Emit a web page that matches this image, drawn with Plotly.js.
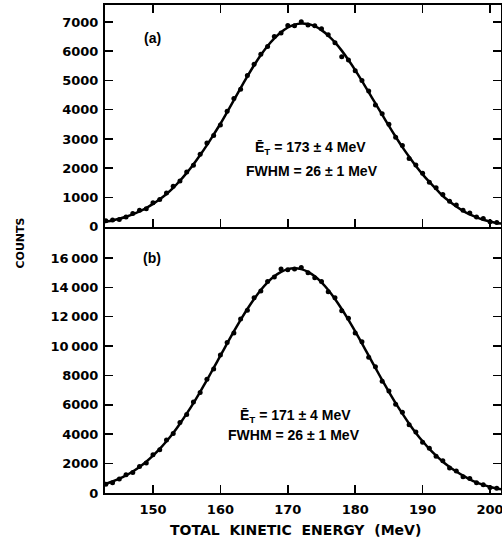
<!DOCTYPE html>
<html>
<head>
<meta charset="utf-8">
<script src="https://cdn.plot.ly/plotly-3.0.1.min.js"></script>
<style>html,body{margin:0;padding:0;background:#fff;}#chart{width:502px;height:541px;}</style>
</head>
<body>
<div id="chart"></div>
<script>
// Total kinetic energy (MeV), one channel per MeV
const energy = [143,144,145,146,147,148,149,150,151,152,153,154,155,156,157,158,159,160,161,162,
  163,164,165,166,167,168,169,170,171,172,173,174,175,176,177,178,179,180,181,182,
  183,184,185,186,187,188,189,190,191,192,193,194,195,196,197,198,199,200,201,202];

// Panel (a): measured counts and fitted curve
const countsA = [200,230,250,330,450,560,610,820,930,1150,1380,1560,1870,2100,2480,2860,3120,3480,3950,4380,
  4700,5170,5550,5900,6160,6500,6620,6880,6870,7010,6900,6870,6770,6560,6290,5810,5700,5330,5000,4640,
  4160,3860,3500,3060,2780,2330,2110,1830,1520,1330,1100,870,740,560,470,330,280,170,140,100];
const fitA = [170,215,270,340,420,520,640,780,940,1120,1330,1570,1840,2130,2450,2790,3150,3520,3920,4330,
  4740,5140,5520,5870,6180,6440,6650,6810,6910,6950,6930,6855,6720,6535,6300,6020,5700,5355,4985,4600,
  4215,3830,3445,3075,2720,2390,2075,1790,1530,1290,1050,860,690,540,420,320,240,180,130,100];

// Panel (b): measured counts and fitted curve
const countsB = [600,700,960,1250,1400,1800,2050,2600,2950,3600,4050,4800,5350,6200,6850,7750,8450,9400,10250,10900,
  11850,12450,13300,13750,14400,14700,15250,15200,15250,15350,15000,14650,14400,13700,13300,12400,11900,10900,10300,9250,
  8600,7600,6950,6050,5500,4650,4150,3450,3050,2500,2200,1700,1500,1100,980,690,560,380,330,200];
const fitB = [628,786,976,1200,1466,1775,2130,2540,3000,3520,4090,4720,5400,6120,6890,7690,8515,9350,10185,11000,
  11790,12530,13210,13820,14340,14750,15050,15240,15300,15240,15050,14750,14340,13820,13210,12530,11790,11000,10185,9350,
  8515,7690,6890,6120,5400,4720,4090,3520,3000,2540,2130,1775,1466,1180,930,720,550,410,300,220];

const xTicks = [150,160,170,180,190,200];
const yTicksA = [0,1000,2000,3000,4000,5000,6000,7000];
const yTicksB = [0,2000,4000,6000,8000,10000,12000,14000,16000];
const yTickTextB = ['0','2000','4000','6000','8000','10\u2009000','12\u2009000','14\u2009000','16\u2009000'];

const tickFont = {family:'DejaVu Sans', size:13, color:'#000', weight:'bold'};
const annFont = {family:'Liberation Sans', size:14, color:'#000', weight:'bold'};

const dot = {color:'#000', size:5};
const line = {color:'#000', width:2.5, shape:'spline', smoothing:0.6};

const traces = [
  {x:energy, y:fitA, xaxis:'x2', yaxis:'y2', mode:'lines', line:line, hoverinfo:'skip'},
  {x:energy, y:countsA, xaxis:'x2', yaxis:'y2', mode:'markers', marker:dot},
  {x:energy, y:fitB, xaxis:'x', yaxis:'y', mode:'lines', line:line, hoverinfo:'skip'},
  {x:energy, y:countsB, xaxis:'x', yaxis:'y', mode:'markers', marker:dot}
];

const split = 0.5457;
const axisCommon = {showgrid:false, zeroline:false, showline:true, linecolor:'#000', linewidth:2,
  ticks:'inside', ticklen:8, tickwidth:1.5, tickcolor:'#000', tickfont:tickFont, ticklabeloverflow:'allow'};

function note(x, y, text, font, extra) {
  return Object.assign({xref:'paper', yref:'paper', x:x, y:y, text:text, showarrow:false,
    xanchor:'center', yanchor:'middle', font:font}, extra || {});
}

const layout = {
  width:502, height:541,
  margin:{l:105, r:1, t:5, b:48},
  paper_bgcolor:'#fff', plot_bgcolor:'#fff',
  showlegend:false,
  xaxis: Object.assign({}, axisCommon, {anchor:'y', range:[142.88,201.63], tickvals:xTicks,
    ticklabelstandoff:3}),
  xaxis2: Object.assign({}, axisCommon, {anchor:'y2', matches:'x', range:[142.88,201.63], tickvals:xTicks,
    showticklabels:false, mirror:'ticks'}),
  yaxis: Object.assign({}, axisCommon, {domain:[0,split], range:[0,18130], tickvals:yTicksB, ticktext:yTickTextB,
    mirror:'ticks', ticklabelstandoff:2}),
  yaxis2: Object.assign({}, axisCommon, {domain:[split,1], range:[0,7580], tickvals:yTicksA,
    mirror:'ticks', ticklabelstandoff:2}),
  annotations:[
    note(0.1187, 0.9324, '(a)', annFont),
    note(0.1187, 0.4816, '(b)', annFont),
    note(0.520, 0.707, '\u0112<sub>T</sub> = 173 \u00b1 4 MeV', annFont),
    note(0.5227, 0.6598, 'FWHM = 26 \u00b1 1 MeV', annFont),
    note(0.4798, 0.1578, '\u0112<sub>T</sub> = 171 \u00b1 4 MeV', annFont),
    note(0.4773, 0.1189, 'FWHM = 26 \u00b1 1 MeV', annFont),
    note(-0.2109, 0.5123, 'COUNTS', {family:'DejaVu Sans', size:11, color:'#000', weight:'bold'}, {textangle:-90}),
    note(0.4823, -0.0758, 'TOTAL\u00a0\u00a0KINETIC\u00a0\u00a0ENERGY\u00a0\u00a0(MeV)',
      {family:'DejaVu Sans', size:14, color:'#000', weight:'bold'})
  ]
};

Plotly.newPlot('chart', traces, layout, {staticPlot:true, displayModeBar:false});
</script>
</body>
</html>
